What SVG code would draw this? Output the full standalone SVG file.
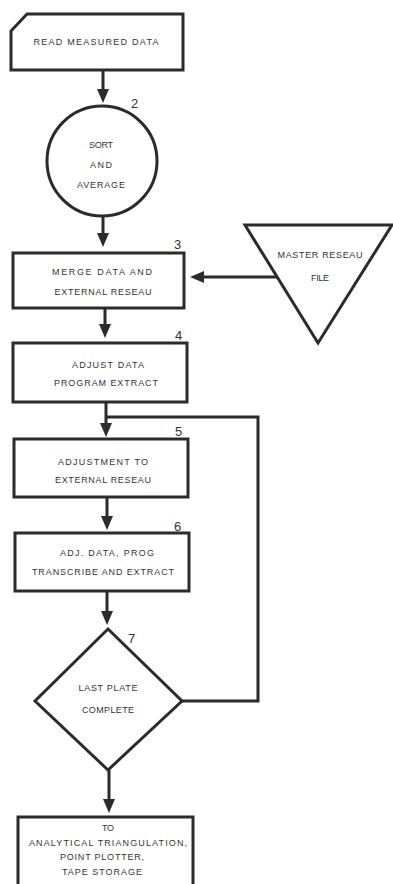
<svg xmlns="http://www.w3.org/2000/svg" width="393" height="884" viewBox="0 0 393 884">
<style>
.s{fill:#fff;stroke:#2b2b2b;stroke-width:3;stroke-linejoin:miter}
.t{font-family:"Liberation Sans",Arial,sans-serif;font-size:9px;fill:#333;text-anchor:middle}
.n{font-family:"Liberation Sans",Arial,sans-serif;font-size:13px;fill:#333}
.c{fill:none;stroke:#2b2b2b;stroke-width:3}
</style>
<defs>
<marker id="ah" viewBox="0 0 14 12" refX="6" refY="6" markerWidth="14" markerHeight="12" markerUnits="userSpaceOnUse" orient="auto">
<path d="M0,0 L14,6 L0,12 z" fill="#2b2b2b"/>
</marker>
</defs>
<rect width="393" height="884" fill="#fff"/>
<g id="connectors">
<line class="c" x1="103" y1="70" x2="103" y2="95" marker-end="url(#ah)"/>
<line class="c" x1="103" y1="215" x2="103" y2="239" marker-end="url(#ah)"/>
<line class="c" x1="105" y1="308" x2="105" y2="330" marker-end="url(#ah)"/>
<line class="c" x1="106" y1="402" x2="106" y2="429" marker-end="url(#ah)"/>
<line class="c" x1="107" y1="497" x2="107" y2="522" marker-end="url(#ah)"/>
<line class="c" x1="107" y1="591" x2="107" y2="617" marker-end="url(#ah)"/>
<line class="c" x1="109" y1="770" x2="109" y2="805" marker-end="url(#ah)"/>
<line class="c" x1="277" y1="277" x2="198" y2="277" marker-end="url(#ah)"/>
<polyline class="c" points="182,701 258,701 258,417 106,417"/>
</g>
<g id="n1">
<polygon class="s" points="27,14 183,14 183,70 11,70 11,31"/>
<text class="t" x="96" y="45" textLength="125" lengthAdjust="spacing">READ MEASURED DATA</text>
</g>
<g id="n2">
<circle class="s" cx="102" cy="161" r="55"/>
<text class="n" x="131" y="108">2</text>
<text class="t" x="101" y="148" textLength="24" lengthAdjust="spacing">SORT</text>
<text class="t" x="101" y="168" textLength="22" lengthAdjust="spacing">AND</text>
<text class="t" x="101" y="188" textLength="48" lengthAdjust="spacing">AVERAGE</text>
</g>
<g id="n3">
<rect class="s" x="13" y="253" width="171" height="55"/>
<text class="n" x="174" y="249">3</text>
<text class="t" x="102" y="275" textLength="100" lengthAdjust="spacing">MERGE DATA AND</text>
<text class="t" x="103" y="295" textLength="97" lengthAdjust="spacing">EXTERNAL RESEAU</text>
</g>
<g id="n_master">
<polygon class="s" points="245,225 392,225 318,343"/>
<text class="t" x="320" y="258" textLength="85" lengthAdjust="spacing">MASTER RESEAU</text>
<text class="t" x="320" y="281" textLength="18" lengthAdjust="spacing">FILE</text>
</g>
<g id="n4">
<rect class="s" x="13" y="343" width="174" height="59"/>
<text class="n" x="175" y="340">4</text>
<text class="t" x="108" y="368" textLength="72" lengthAdjust="spacing">ADJUST DATA</text>
<text class="t" x="106" y="386" textLength="104" lengthAdjust="spacing">PROGRAM EXTRACT</text>
</g>
<g id="n5">
<rect class="s" x="14" y="439" width="174" height="58"/>
<text class="n" x="175" y="436">5</text>
<text class="t" x="103" y="465" textLength="90" lengthAdjust="spacing">ADJUSTMENT TO</text>
<text class="t" x="103" y="483" textLength="96" lengthAdjust="spacing">EXTERNAL RESEAU</text>
</g>
<g id="n6">
<rect class="s" x="15" y="533" width="174" height="58"/>
<text class="n" x="174" y="531">6</text>
<text class="t" x="107" y="556" textLength="94" lengthAdjust="spacing">ADJ. DATA, PROG</text>
<text class="t" x="103" y="575" textLength="142" lengthAdjust="spacing">TRANSCRIBE AND EXTRACT</text>
</g>
<g id="n7">
<polygon class="s" points="108,629 182,701 108,770 35,701"/>
<text class="n" x="128" y="643">7</text>
<text class="t" x="108" y="691" textLength="59" lengthAdjust="spacing">LAST PLATE</text>
<text class="t" x="108" y="713" textLength="52" lengthAdjust="spacing">COMPLETE</text>
</g>
<g id="n8">
<rect class="s" x="18" y="817" width="175" height="70"/>
<text class="t" x="108" y="831" textLength="12" lengthAdjust="spacing">TO</text>
<text class="t" x="108" y="846" textLength="158" lengthAdjust="spacing">ANALYTICAL TRIANGULATION,</text>
<text class="t" x="102" y="860" textLength="84" lengthAdjust="spacing">POINT PLOTTER,</text>
<text class="t" x="102" y="875" textLength="80" lengthAdjust="spacing">TAPE STORAGE</text>
</g>
</svg>
